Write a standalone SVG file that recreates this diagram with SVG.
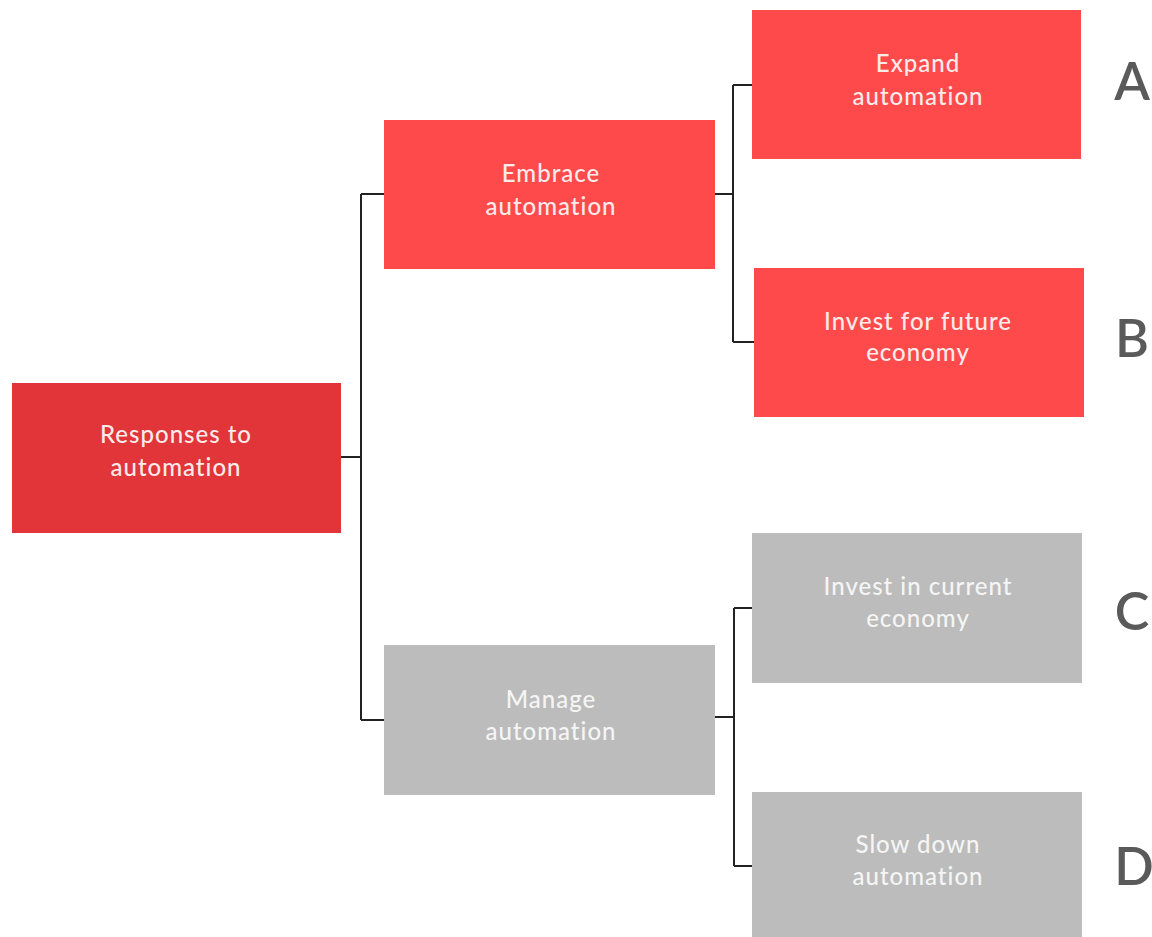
<svg xmlns="http://www.w3.org/2000/svg" width="1152" height="937" viewBox="0 0 1152 937">
<style>
.red{fill:#ff4a4c}
.root{fill:#e13539}
.gray{fill:#bcbcbc}
.t{font-family:Lato,"Open Sans",sans-serif;font-size:24px;font-weight:500;fill:#fbeaea;text-anchor:middle;letter-spacing:1px}
.tg{fill:#f5f5f5}
.lbl{font-family:Lato,"Open Sans",sans-serif;font-size:52px;font-weight:600;fill:#5a5a5a;text-anchor:middle}
.c{fill:none;stroke:#222;stroke-width:2}
</style>
<rect width="1152" height="937" fill="#ffffff"/>
<g id="connectors">
<path class="c" d="M341 457H361M361 194V720M361 194H384M361 720H384"/>
<path class="c" d="M715 194H733M733 85V342M733 85H752M733 342H754"/>
<path class="c" d="M715 717H734M734 608V866M734 608H752M734 866H752"/>
</g>
<g id="root"><rect class="root" x="12" y="383" width="329" height="150"/>
<text class="t" x="176" y="443">Responses to</text><text class="t" x="176" y="476">automation</text></g>
<g id="embrace"><rect class="red" x="384" y="120" width="331" height="149"/>
<text class="t" x="551" y="182">Embrace</text><text class="t" x="551" y="215">automation</text></g>
<g id="manage"><rect class="gray" x="384" y="645" width="331" height="150"/>
<text class="t tg" x="551" y="708">Manage</text><text class="t tg" x="551" y="740">automation</text></g>
<g id="expand"><rect class="red" x="752" y="10" width="329" height="149"/>
<text class="t" x="918" y="72">Expand</text><text class="t" x="918" y="105">automation</text></g>
<g id="future"><rect class="red" x="754" y="268" width="330" height="149"/>
<text class="t" x="918" y="330">Invest for future</text><text class="t" x="918" y="361">economy</text></g>
<g id="current"><rect class="gray" x="752" y="533" width="330" height="150"/>
<text class="t tg" x="918" y="595">Invest in current</text><text class="t tg" x="918" y="627">economy</text></g>
<g id="slow"><rect class="gray" x="752" y="792" width="330" height="150"/>
<text class="t tg" x="918" y="853">Slow down</text><text class="t tg" x="918" y="885">automation</text></g>
<g id="labels">
<text class="lbl" x="1132" y="100">A</text>
<text class="lbl" x="1132" y="357">B</text>
<text class="lbl" x="1132" y="630">C</text>
<text class="lbl" x="1134" y="885">D</text>
</g>
</svg>
